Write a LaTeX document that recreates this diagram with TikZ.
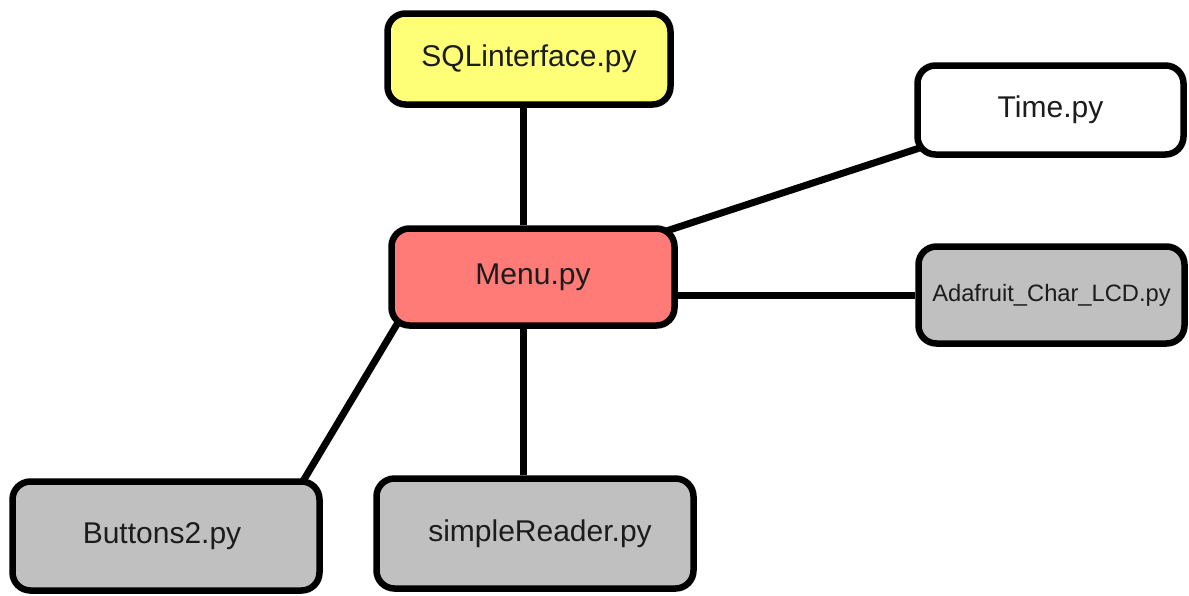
\documentclass[tikz,border=0pt]{standalone}
\usepackage{fontspec}
\setmainfont{Liberation Sans}
\usetikzlibrary{calc,backgrounds}

\definecolor{sqlfill}{RGB}{255,255,119}
\definecolor{menufill}{RGB}{255,123,120}
\definecolor{modfill}{RGB}{192,192,192}
\definecolor{labeltext}{RGB}{28,28,28}

\tikzset{
  module/.style={draw=black, line width=6.5pt, rounded corners=18pt,
    inner sep=0pt, text=labeltext,
    font=\fontsize{30}{36}\selectfont},
  link/.style={draw=black, line width=7pt}
}

\begin{document}
\begin{tikzpicture}[x=1pt,y=-1pt]
  \useasboundingbox (0,0) rectangle (1189,595);

  % module boxes
  \node[module, fill=sqlfill, minimum width=283pt, minimum height=91pt]
    (sql) at (529,59) {SQLinterface.py};
  \node[module, fill=white, minimum width=266pt, minimum height=89pt]
    (time) at (1050.5,110) {Time.py};
  \node[module, fill=menufill, minimum width=283pt, minimum height=97pt]
    (menu) at (533,277) {\raisebox{4pt}{Menu.py}};
  \node[module, fill=modfill, minimum width=266pt, minimum height=97pt,
    font=\fontsize{23.7}{28}\selectfont]
    (lcd) at (1051.5,295) {Adafruit\_Char\_LCD.py};
  \node[module, fill=modfill, minimum width=307pt, minimum height=109pt]
    (btn) at (166,536) {\hspace*{-8pt}Buttons2.py};
  \node[module, fill=modfill, minimum width=317pt, minimum height=110pt]
    (sr) at (535,533.5) {\hspace*{10pt}simpleReader.py};

  % attachment points of the slanted links
  \coordinate (mt) at ([yshift=-2pt]menu.north east);
  \coordinate (tm) at ([yshift=8pt]time.south west);
  \coordinate (mb) at ([xshift=6pt]menu.south west);
  \coordinate (bm) at ([xshift=-18pt]btn.north east);

  % links between modules, kept underneath the boxes
  \begin{scope}[on background layer]
    \draw[link] ([xshift=-6pt]sql.south) -- ([xshift=-10pt]menu.north);
    \draw[link] ($(tm)!1.08!(mt)$) -- ($(mt)!1.06!(tm)$);
    \draw[link] (menu.east |- lcd.west) -- (lcd.west);
    \draw[link] ($(bm)!1.15!(mb)$) -- ($(mb)!1.05!(bm)$);
    \draw[link] ([xshift=-10pt]menu.south) -- ([xshift=-12pt]sr.north);
  \end{scope}
\end{tikzpicture}
\end{document}
